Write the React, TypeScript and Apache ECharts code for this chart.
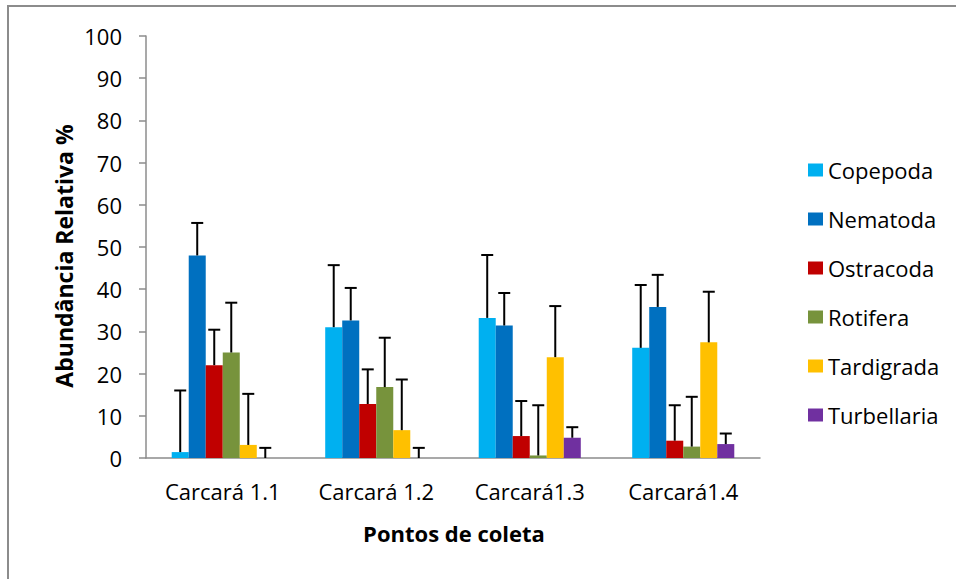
import React, { useEffect, useRef } from "react";
import * as echarts from "echarts";

const categories = ["Carcará 1.1", "Carcará 1.2", "Carcará1.3", "Carcará1.4"];
const seriesNames = ["Copepoda", "Nematoda", "Ostracoda", "Rotifera", "Tardigrada", "Turbellaria"];
const colors = ["#00B0F0", "#0070C0", "#C00000", "#77933C", "#FFC000", "#7030A0"];

const copepoda = [1.4, 31.0, 33.2, 26.1];
const nematoda = [48.0, 32.6, 31.4, 35.8];
const ostracoda = [22.0, 12.8, 5.2, 4.1];
const rotifera = [25.0, 16.8, 0.6, 2.7];
const tardigrada = [3.1, 6.6, 23.9, 27.4];
const turbellaria = [0, 0, 4.8, 3.3];

const copepodaErr = [14.6, 14.7, 14.9, 14.9];
const nematodaErr = [7.7, 7.7, 7.7, 7.6];
const ostracodaErr = [8.4, 8.2, 8.3, 8.4];
const rotiferaErr = [11.8, 11.7, 11.9, 11.8];
const tardigradaErr = [12.1, 12.0, 12.1, 12.0];
const turbellariaErr = [2.4, 2.4, 2.5, 2.5];

const yTicks = [0, 10, 20, 30, 40, 50, 60, 70, 80, 90, 100];

const means = [copepoda, nematoda, ostracoda, rotifera, tardigrada, turbellaria];
const errs = [copepodaErr, nematodaErr, ostracodaErr, rotiferaErr, tardigradaErr, turbellariaErr];

const FONT = "'Open Sans', 'Noto Sans', sans-serif";
const GAP = 0.335;

export default function App() {
  const ref = useRef<HTMLDivElement>(null);
  useEffect(() => {
    if (!ref.current) return;
    const chart = echarts.init(ref.current, null, { renderer: "svg" });
    const errData: number[][] = [];
    means.forEach((arr, s) => {
      arr.forEach((v, c) => {
        errData.push([c, s, v, errs[s][c]]);
      });
    });
    const barSeries = seriesNames.map((name, i) => ({
      name,
      type: "bar",
      data: means[i],
      itemStyle: { color: colors[i] },
      barGap: "0%",
      barCategoryGap: GAP * 100 + "%",
    }));
    const option: any = {
      animation: false,
      backgroundColor: "#ffffff",
      grid: { left: 146, right: 196, top: 36, bottom: 121, containLabel: false },
      legend: {
        data: seriesNames,
        orient: "vertical",
        left: 803,
        top: 154,
        itemWidth: 15,
        itemHeight: 13,
        itemGap: 27,
        icon: "rect",
        textStyle: { fontFamily: FONT, fontSize: 22, color: "#000" },
      },
      xAxis: {
        type: "category",
        data: categories,
        axisLine: { lineStyle: { color: "#8c8c8c", width: 1.5 } },
        axisTick: { show: false },
        axisLabel: { fontFamily: FONT, fontSize: 22, color: "#000", margin: 22 },
      },
      yAxis: {
        type: "value",
        min: yTicks[0],
        max: yTicks[yTicks.length - 1],
        interval: 10,
        axisLine: { show: true, lineStyle: { color: "#8c8c8c", width: 1.5 } },
        axisTick: { show: true, length: 7, lineStyle: { color: "#8c8c8c", width: 1.5 } },
        splitLine: { show: false },
        axisLabel: { fontFamily: FONT, fontSize: 22, color: "#000", margin: 24 },
      },
      graphic: [
        {
          type: "rect",
          shape: { x: 8, y: 6, width: 1000, height: 700 },
          style: { fill: "none", stroke: "#8c8c8c", lineWidth: 2 },
          silent: true,
        },
        {
          type: "text",
          x: 454,
          y: 533,
          style: {
            text: "Pontos de coleta",
            fontFamily: FONT,
            fontWeight: "bold",
            fontSize: 22,
            fill: "#000",
            align: "center",
            verticalAlign: "middle",
          },
        },
        {
          type: "text",
          x: 64,
          y: 256,
          rotation: Math.PI / 2,
          style: {
            text: "Abundância Relativa %",
            fontFamily: FONT,
            fontWeight: "bold",
            fontSize: 23,
            fill: "#000",
            align: "center",
            verticalAlign: "middle",
          },
        },
      ],
      series: [
        ...barSeries,
        {
          type: "custom",
          data: errData,
          encode: { x: 0, y: 2 },
          z: 10,
          renderItem: (params: any, api: any) => {
            const cat = api.value(0);
            const s = api.value(1);
            const mean = api.value(2);
            const err = api.value(3);
            const base = api.coord([cat, mean]);
            const top = api.coord([cat, mean + err]);
            const bandW = api.size([1, 0])[0];
            const barW = (bandW * (1 - GAP)) / 6;
            const x = base[0] - 3 * barW + (s + 0.5) * barW;
            return {
              type: "group",
              children: [
                {
                  type: "line",
                  shape: { x1: x, y1: base[1], x2: x, y2: top[1] },
                  style: { stroke: "#000", lineWidth: 2 },
                },
                {
                  type: "line",
                  shape: { x1: x - 6, y1: top[1], x2: x + 6, y2: top[1] },
                  style: { stroke: "#000", lineWidth: 2 },
                },
              ],
            };
          },
        },
      ],
    };
    chart.setOption(option);
    return () => chart.dispose();
  }, []);
  return (
    <div
      ref={ref}
      style={{ position: "absolute", left: 0, top: 0, width: 956, height: 579 }}
    />
  );
}
